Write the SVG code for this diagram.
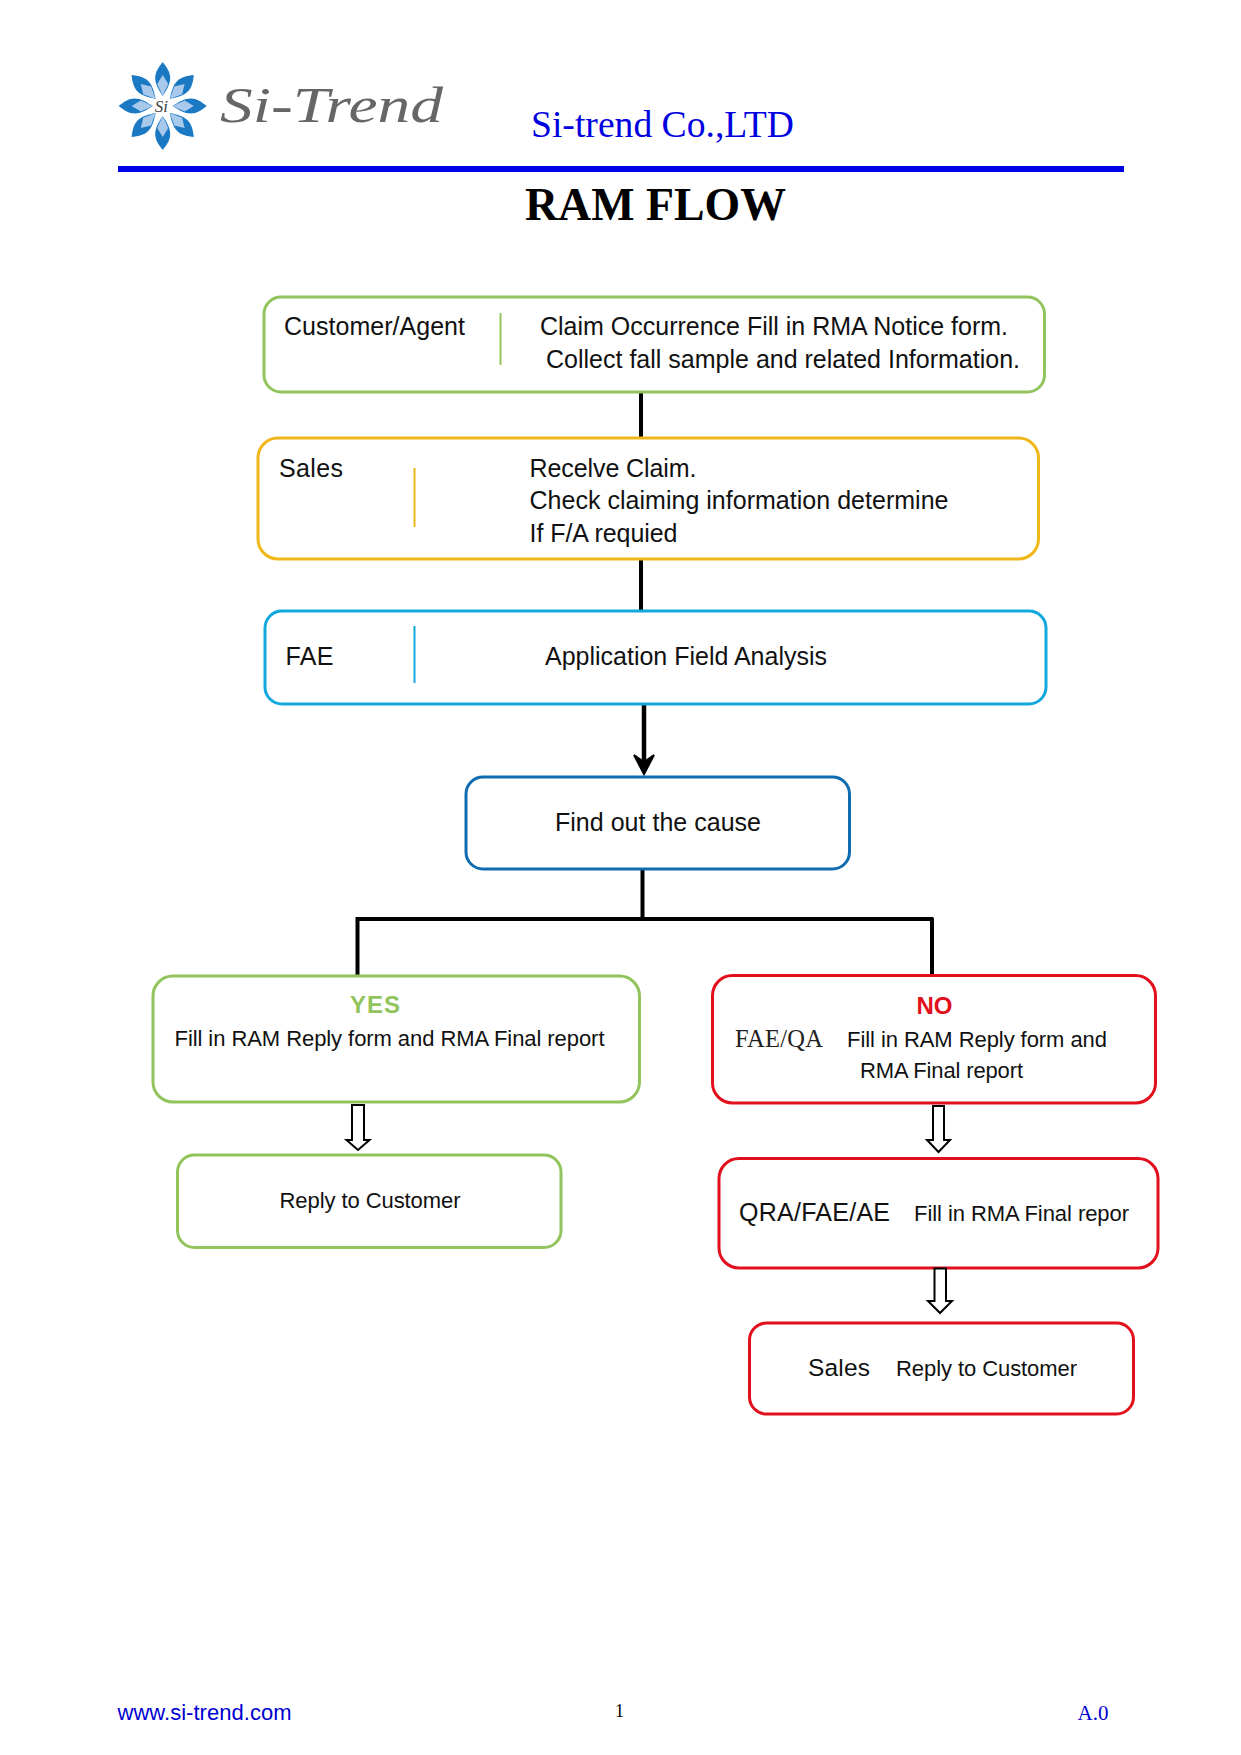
<svg xmlns="http://www.w3.org/2000/svg" xmlns:xlink="http://www.w3.org/1999/xlink" width="1241" height="1755" viewBox="0 0 1241 1755">
<style>
text{font-family:"Liberation Sans",Arial,sans-serif;font-size:25px;fill:#111}
.s{font-size:22px}
.m{font-size:24.5px}
.serif{font-family:"Liberation Serif","Times New Roman",serif}
.box{fill:#fff;stroke-width:3}
.g{stroke:#92c45e}.y{stroke:#f0b71a}.c{stroke:#13a8dd}.b{stroke:#0f6cb0}.r{stroke:#e2101c}
.div{stroke-width:2;fill:none}
.link{stroke:#000;fill:none;stroke-width:4}
.hollow{fill:#fff;stroke:#000;stroke-width:2;stroke-linejoin:miter}
</style>
<defs>
<g id="petal">
<path d="M0,-44C4,-39 7.500,-34 7.500,-28C7.500,-22 4,-16 0,-10C-4,-16 -7.500,-22 -7.500,-28C-7.500,-34 -4,-39 0,-44Z" fill="#1b79c4"/>
<path d="M0,-31L5.500,-22L0,-10L-5.500,-22Z" fill="#a9c9ec"/>
</g>
</defs>
<rect width="1241" height="1755" fill="#fff"/>

<g id="header">
<g id="logo" transform="translate(162.7 106)">
<use xlink:href="#petal" href="#petal"/>
<use xlink:href="#petal" href="#petal" transform="rotate(45)"/>
<use xlink:href="#petal" href="#petal" transform="rotate(90)"/>
<use xlink:href="#petal" href="#petal" transform="rotate(135)"/>
<use xlink:href="#petal" href="#petal" transform="rotate(180)"/>
<use xlink:href="#petal" href="#petal" transform="rotate(225)"/>
<use xlink:href="#petal" href="#petal" transform="rotate(270)"/>
<use xlink:href="#petal" href="#petal" transform="rotate(315)"/>
<text class="serif" x="-8" y="6" style="font-size:17px;font-style:italic;fill:#444">Si</text>
</g>
<text class="serif" x="220" y="122" textLength="223" lengthAdjust="spacingAndGlyphs" style="font-size:50px;font-style:italic;fill:#666">Si-Trend</text>
<text class="serif" x="531" y="137" textLength="263" lengthAdjust="spacingAndGlyphs" style="font-size:37px;fill:#0000e0">Si-trend Co.,LTD</text>
<rect x="118" y="166" width="1006" height="6" fill="#0000e6"/>
<text class="serif" x="525" y="220" textLength="261" lengthAdjust="spacingAndGlyphs" style="font-size:46px;font-weight:bold;fill:#000">RAM FLOW</text>
</g>

<g id="connectors">
<path class="link" d="M641 392V437M641 557V612"/>
<path class="link" style="stroke-width:4.500" d="M644 704V770"/>
<path d="M634 755L644 774L654 755L644 762Z" fill="#000" stroke="#000" stroke-width="2"/>
<path class="link" d="M642.500 866V918.500M355.500 919H933.500M357.500 918.500V975M932 918.500V975"/>
</g>

<g id="node-customer">
<rect class="box g" x="264" y="297" width="780.500" height="95" rx="17"/>
<path class="div g" d="M500.500 313V365"/>
<text x="284" y="335" textLength="181">Customer/Agent</text>
<text x="540" y="335" textLength="468">Claim Occurrence Fill in RMA Notice form.</text>
<text x="546" y="368" textLength="474">Collect fall sample and related Information.</text>
</g>

<g id="node-sales">
<rect class="box y" x="258" y="438" width="780.500" height="121" rx="20"/>
<path class="div y" d="M414.500 468V527"/>
<text x="279" y="477" textLength="64">Sales</text>
<text x="529.500" y="477" textLength="167">Recelve Claim.</text>
<text x="529.500" y="509" textLength="419">Check claiming information determine</text>
<text x="529.500" y="542" textLength="148">If F/A requied</text>
</g>

<g id="node-fae">
<rect class="box c" x="265" y="611" width="781" height="93" rx="17"/>
<path class="div c" d="M414.500 626V683"/>
<text x="285.500" y="665" textLength="48">FAE</text>
<text x="545" y="665" textLength="282">Application Field Analysis</text>
</g>

<g id="node-cause">
<rect class="box b" x="466" y="777" width="383.500" height="92" rx="17"/>
<text x="555" y="831" textLength="206">Find out the cause</text>
</g>

<g id="node-yes">
<rect class="box g" x="153" y="976" width="486.500" height="126" rx="20"/>
<text x="350" y="1013" textLength="50" style="font-size:24px;font-weight:bold;fill:#92c45e">YES</text>
<text class="s" x="174.500" y="1046" textLength="430">Fill in RAM Reply form and RMA Final report</text>
</g>

<g id="node-reply-yes">
<rect class="box g" x="177.500" y="1155" width="383.500" height="92.500" rx="17"/>
<text class="s" x="279.500" y="1207.500" textLength="181">Reply to Customer</text>
</g>

<g id="node-no">
<rect class="box r" x="712.500" y="975.500" width="443" height="127.500" rx="20"/>
<text x="916.500" y="1014" textLength="36" style="font-size:24px;font-weight:bold;fill:#e2101c">NO</text>
<text class="serif" x="735" y="1047" textLength="88" style="font-size:24.500px;fill:#222">FAE/QA</text>
<text class="s" x="847" y="1047" textLength="260">Fill in RAM Reply form and</text>
<text class="s" x="860" y="1078" textLength="163">RMA Final report</text>
</g>

<g id="node-qra">
<rect class="box r" x="719" y="1158.500" width="439" height="109.500" rx="20"/>
<text x="739" y="1221" textLength="151">QRA/FAE/AE</text>
<text class="s" x="914" y="1221" textLength="215">Fill in RMA Final repor</text>
</g>

<g id="node-sales-reply">
<rect class="box r" x="749.500" y="1323" width="384" height="91" rx="17"/>
<text class="m" x="808" y="1376" textLength="62">Sales</text>
<text class="s" x="896" y="1376" textLength="181">Reply to Customer</text>
</g>

<g id="hollow-arrows">
<path class="hollow" d="M352 1105H364V1140H369.500L358 1150L346.500 1140H352Z"/>
<path class="hollow" d="M933 1106H944V1140H950L938.500 1152L927 1140H933Z"/>
<path class="hollow" d="M934.500 1268.500H946V1301H952L940 1313L928 1301H934.500Z"/>
</g>

<g id="footer">
<text x="117.500" y="1720" textLength="174" style="font-size:22px;fill:#0000d0">www.si-trend.com</text>
<text class="serif" x="615" y="1717" style="font-size:18px;fill:#000">1</text>
<text class="serif" x="1077.500" y="1720" textLength="31" style="font-size:21px;fill:#0000d0">A.0</text>
</g>
</svg>
